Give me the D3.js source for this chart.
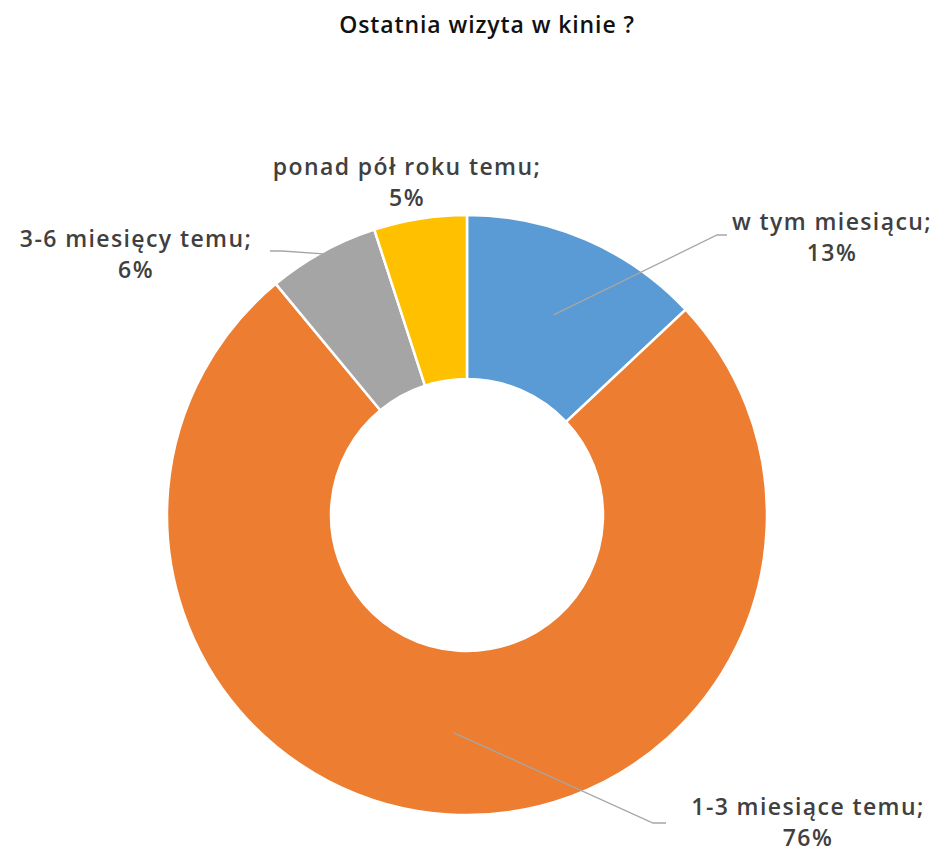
<!DOCTYPE html>
<html>
<head>
	<meta charset="utf-8">
	<script src="https://cdn.jsdelivr.net/npm/d3@7"></script>
	<title>Ostatnia wizyta w kinie ?</title>
	<style>
		body { margin: 0; background: #fff; }
		text { font-family: "Open Sans", "DejaVu Sans", sans-serif; font-weight: 600; }
	</style>
</head>
<body>
	<script type="text/javascript">

	// data
	var categories = ["w tym miesiącu", "1-3 miesiące temu", "3-6 miesięcy temu", "ponad pół roku temu"];
	var values = [13, 76, 6, 5];
	var colors = ["#5B9BD5", "#ED7D31", "#A5A5A5", "#FFC000"];

	var widthSvg = 942;
	var heightSvg = 854;
	var cx = 467, cy = 515;
	var outerR = 300, innerR = 136;

	// where each label sits (first line baseline) and how the leader goes
	var labelPos = [
		{ x: 832, y: 230, leader: "centroid", elbow: [717, 235], end: [727, 235] },
		{ x: 808, y: 815, leader: "centroid", elbow: [653, 823], end: [666, 823] },
		{ x: 136, y: 247, leader: "outer", elbow: [282, 251], end: [270, 251] },
		{ x: 407, y: 175, leader: null }
	];

	var svg = d3.select("body")
		.append("svg")
		.attr("width", widthSvg)
		.attr("height", heightSvg);

	svg.append("text")
		.attr("x", 487)
		.attr("y", 33)
		.attr("text-anchor", "middle")
		.attr("font-size", 23)
		.attr("letter-spacing", 0.9)
		.attr("fill", "#111")
		.text("Ostatnia wizyta w kinie ?");

	var pie = d3.pie().sort(null).value(function(d) { return d; });
	var arcs = pie(values);

	var arc = d3.arc().innerRadius(innerR).outerRadius(outerR);
	var outerArc = d3.arc().innerRadius(outerR - 2).outerRadius(outerR - 2);

	var g = svg.append("g").attr("transform", "translate(" + cx + "," + cy + ")");

	g.selectAll("path")
		.data(arcs)
		.enter()
		.append("path")
		.attr("d", arc)
		.attr("fill", function(d, i) { return colors[i]; })
		.attr("stroke", "#fff")
		.attr("stroke-width", 2.5);

	// leader lines
	arcs.forEach(function(d, i) {
		var lp = labelPos[i];
		if (!lp.leader) return;
		var p = lp.leader == "centroid" ? arc.centroid(d) : outerArc.centroid(d);
		var pts = [[p[0] + cx, p[1] + cy], lp.elbow, lp.end];
		svg.append("polyline")
			.attr("points", pts.map(function(q) { return q.join(","); }).join(" "))
			.attr("fill", "none")
			.attr("stroke", "#A6A6A6")
			.attr("stroke-width", 1.3);
	});

	// labels
	arcs.forEach(function(d, i) {
		var lp = labelPos[i];
		var t = svg.append("text")
			.attr("text-anchor", "middle")
			.attr("font-size", 23)
			.attr("letter-spacing", 1.4)
			.attr("fill", "#404040");
		t.append("tspan").attr("x", lp.x).attr("y", lp.y).text(categories[i] + ";");
		t.append("tspan").attr("x", lp.x).attr("y", lp.y + 31).text(values[i] + "%");
	});

	</script>
</body>
</html>
